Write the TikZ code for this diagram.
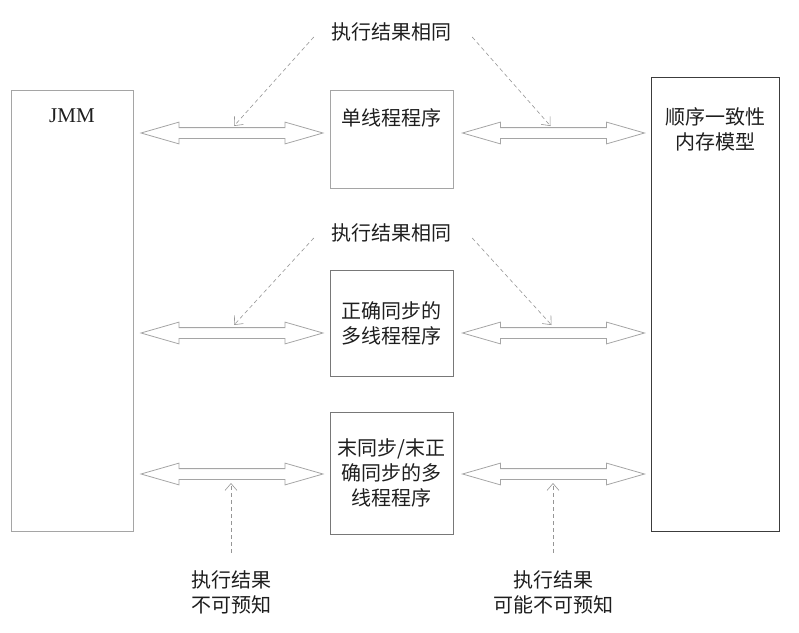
\documentclass[tikz,border=0pt]{standalone}
\usepackage{fontspec}
\setmainfont{Liberation Serif}
\newfontfamily\cjk{Noto Sans CJK SC}
\usepackage{xcolor}
\usepackage{tikz}
\usetikzlibrary{arrows.meta, positioning, shapes.arrows, calc}
\definecolor{jmmgray}{RGB}{165, 165, 165}
\definecolor{boxgray}{RGB}{120, 120, 120}
\definecolor{scgray}{RGB}{60, 60, 60}
\definecolor{arrgray}{RGB}{165, 165, 165}
\definecolor{dshgray}{RGB}{150, 150, 150}
\definecolor{jmmtext}{RGB}{30, 30, 30}

\begin{document}
\begin{tikzpicture}[
    x=1pt, y=-1pt,
    box/.style={draw=jmmgray, line width=0.8pt, inner sep=0pt},
    txt/.style={font=\cjk\fontsize{20}{25}\selectfont, align=center,
                text=jmmtext, inner sep=1pt},
    dblarr/.style={double arrow, draw=arrgray, line width=0.8pt,
                   inner xsep=0pt, inner ysep=5pt, minimum height=182pt,
                   double arrow head extend=5.5pt, double arrow tip angle=32,
                   double arrow head indent=0pt},
    dsh/.style={draw=dshgray, line width=0.6pt, dash pattern=on 4pt off 3pt,
                -{Straight Barb[length=7pt, width=12pt]}},
  ]
    \useasboundingbox (0,0) rectangle (799,632);

    \node[box, minimum width=122pt, minimum height=441pt] (jmm) at (72,310.5) {};
    \node[box, draw=scgray, minimum width=128pt, minimum height=454pt] (sc) at (715,304) {};
    \node[box, minimum width=123pt, minimum height=98pt] (b1) at (391.5,139) {};
    \node[box, txt, draw=boxgray, minimum width=123pt, minimum height=106pt] (b2)
      at (391.5,323) {正确同步的\\多线程程序};
    \node[box, txt, draw=boxgray, minimum width=123pt, minimum height=122pt] (b3)
      at (391.5,473) {末同步/末正\\确同步的多\\线程程序};

    \node[txt, font=\fontsize{21}{25}\selectfont] (jmmtxt) at (72,116) {JMM};
    \node[txt] (b1txt) at (391.5,118) {单线程程序};
    \node[txt] (sctxt) at (715,129.5) {顺序一致性\\内存模型};

    \node[txt] (r1) at (391,32) {执行结果相同};
    \node[txt] (r2) at (391,233) {执行结果相同};
    \node[txt] (u1) at (231,592.5) {执行结果\\不可预知};
    \node[txt] (u2) at (553,592.5) {执行结果\\可能不可预知};

    \node[dblarr] (a1l) at (232,133) {};
    \node[dblarr] (a1r) at (553.5,133) {};
    \node[dblarr] (a2l) at (232,333) {};
    \node[dblarr] (a2r) at (553.5,333) {};
    \node[dblarr] (a3l) at (232,474) {};
    \node[dblarr] (a3r) at (553.5,474) {};

    \draw[dsh] ([xshift=-16pt,yshift=-5pt]r1.west) -- ([xshift=2pt,yshift=7pt]a1l.center);
    \draw[dsh] ([xshift=20pt,yshift=-5pt]r1.east) -- ([xshift=-3pt,yshift=7pt]a1r.center);
    \draw[dsh] ([xshift=-16pt,yshift=-5pt]r2.west) -- ([xshift=2pt,yshift=8pt]a2l.center);
    \draw[dsh] ([xshift=20pt,yshift=-5pt]r2.east) -- ([xshift=-2pt,yshift=8pt]a2r.center);
    \draw[dsh] ([yshift=17pt]u1.north) -- ([xshift=-1pt,yshift=-9pt]a3l.center);
    \draw[dsh] ([yshift=17pt]u2.north) -- ([xshift=-0.5pt,yshift=-9pt]a3r.center);
  \end{tikzpicture}
\end{document}
